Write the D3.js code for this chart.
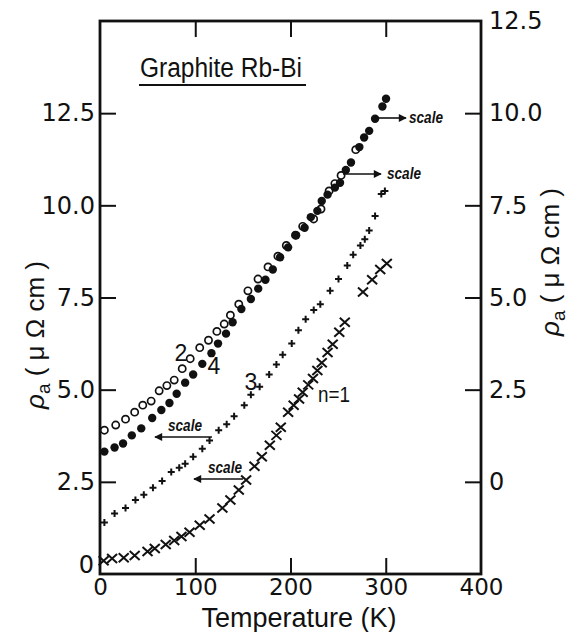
<!DOCTYPE html>
<html lang="en">
<head>
    <meta charset="UTF-8">
    <title>Graphite Rb-Bi</title>
    <style>
        body { margin: 0; background: #fff; }
        text { fill: #111; }
    </style>
</head>
<script src="https://d3js.org/d3.v7.min.js"></script>
<body>
<script>
    // n = 2 (open circles), right hand scale
    var tempN2 = [4.6, 16.5, 26.8, 36.4, 44.9, 53.7, 62.1, 70.2, 77.9, 86.3, 94.7, 104.7, 113.9, 122.7,
        130.4, 136.9, 145.7, 155.3, 165.9, 176.4, 186.8, 195.6, 205.2, 212.8, 224.3, 232, 240.5,
        246.6, 253.1, 268.5];
    var rhoN2 = [1.40, 1.54, 1.70, 1.89, 2.08, 2.19, 2.47, 2.61, 2.76, 3.07, 3.34, 3.64, 3.84, 4.08,
        4.28, 4.52, 4.82, 5.18, 5.50, 5.83, 6.12, 6.41, 6.69, 6.93, 7.13, 7.40, 7.89,
        8.09, 8.31, 9.01];

    // n = 4 (filled circles), right hand scale
    var tempN4 = [4.6, 15.3, 24.2, 33.4, 43.3, 54.8, 64.4, 72.9, 80.5, 89.4, 97.8, 107.4, 117, 123.9,
        132.3, 139.2, 148.4, 158.4, 166.1, 173.7, 181.4, 189.1, 197.5, 205.9, 214.8, 221.3, 228.2,
        232.8, 238.9, 246.6, 252, 258.1, 263.5, 272.3, 277.3, 282.6, 288.8, 296.5, 300.3];
    var rhoN4 = [0.82, 0.93, 1.04, 1.26, 1.45, 1.73, 1.95, 2.14, 2.39, 2.69, 2.91, 3.20, 3.49, 3.75,
        4.02, 4.33, 4.69, 4.96, 5.24, 5.48, 5.76, 6.09, 6.36, 6.69, 6.89, 7.18, 7.35,
        7.62, 7.79, 7.98, 8.11, 8.46, 8.66, 9.08, 9.34, 9.52, 9.85, 10.18, 10.39];

    // n = 3 (plus), left hand scale
    var tempN3 = [4.6, 15.3, 26.8, 37.2, 46, 55.6, 65.2, 74.8, 83.2, 89.4, 97.8, 107.4, 115, 124.6,
        133, 140.8, 151.5, 158.4, 167.6, 177.6, 185.2, 191.8, 201.3, 208.3, 215.9, 224.4, 231.3,
        241.6, 250.4, 259.6, 265.8, 273.4, 278, 282.6, 288.8, 295.3, 299.1];
    var rhoN3 = [1.40, 1.64, 1.79, 2.01, 2.15, 2.34, 2.52, 2.77, 2.88, 2.99, 3.18, 3.40, 3.62, 3.90,
        4.06, 4.28, 4.58, 4.86, 5.08, 5.41, 5.68, 5.95, 6.25, 6.61, 6.91, 7.16, 7.32,
        7.68, 8.00, 8.37, 8.66, 8.91, 9.08, 9.32, 9.71, 10.31, 10.39];

    // n = 1 (crosses), left hand scale
    var tempN1 = [3.8, 12.7, 24.9, 36.4, 49.9, 57.5, 69, 77.9, 85.5, 94, 104.7, 115, 128.5, 136.9,
        145.7, 153.4, 162.2, 169.9, 178.3, 185.2, 189.8, 197.5, 203.3, 209, 212.8, 218.6, 223.6,
        228.2, 232.8, 238.9, 244.3, 251.2, 257, 276.1, 285.7, 294.2, 301.1];
    var rhoN1 = [0.36, 0.42, 0.44, 0.50, 0.61, 0.69, 0.80, 0.91, 1.02, 1.13, 1.32, 1.49, 1.79, 2.01,
        2.28, 2.55, 2.92, 3.18, 3.49, 3.76, 3.98, 4.39, 4.58, 4.75, 4.93, 5.13, 5.30,
        5.52, 5.73, 6.01, 6.23, 6.56, 6.83, 7.65, 7.98, 8.26, 8.42];

    var xTicks = [0, 100, 200, 300, 400];
    var leftTicks = [0, 2.5, 5, 7.5, 10, 12.5];
    var rightTicks = [0, 2.5, 5, 7.5, 10, 12.5];

    var width = 570, height = 632;
    var frameL = 100, frameR = 481, frameT = 21, frameB = 574;

    var svg = d3.select("body").append("svg")
        .attr("width", width)
        .attr("height", height);

    var x = d3.scaleLinear().domain([0, 400]).range([frameL, frameR]);
    var yL = d3.scaleLinear().domain([0, 15]).range([frameB, frameT]);
    var yR = d3.scaleLinear().domain([-2.5, 12.5]).range([frameB, frameT]);

    var fmt = function (d) { return d === 0 ? "0" : d.toFixed(1); };
    var tickFont = "'DejaVu Sans', sans-serif";

    function styleAxis(g) {
        g.select(".domain").remove();
        g.selectAll(".tick line").attr("stroke", "#111").attr("stroke-width", 2);
        g.selectAll(".tick text")
            .attr("font-family", tickFont)
            .attr("font-size", 24)
            .attr("fill", "#111");
    }

    // bottom
    svg.append("g")
        .attr("transform", "translate(0," + frameB + ")")
        .call(d3.axisBottom(x).tickValues(xTicks).tickSize(-16).tickPadding(5).tickFormat(d3.format("d")))
        .call(styleAxis)
        .call(function (g) {
            g.selectAll(".tick text").attr("font-size", 23);
            g.selectAll(".tick").filter(function (d) { return d === 0 || d === 400; }).select("line").remove();
        });

    // top
    svg.append("g")
        .attr("transform", "translate(0," + frameT + ")")
        .call(d3.axisTop(x).tickValues([100, 200, 300]).tickSize(-16).tickFormat(""))
        .call(styleAxis);

    // left
    svg.append("g")
        .attr("transform", "translate(" + frameL + ",0)")
        .call(d3.axisLeft(yL).tickValues(leftTicks).tickSize(-16).tickPadding(5).tickFormat(fmt))
        .call(styleAxis)
        .call(function (g) {
            var t0 = g.selectAll(".tick").filter(function (d) { return d === 0; });
            t0.select("line").remove();
            t0.select("text").attr("dy", "-0.05em").attr("x", -6);
        });

    // right
    svg.append("g")
        .attr("transform", "translate(" + frameR + ",0)")
        .call(d3.axisRight(yR).tickValues(rightTicks).tickSize(-16).tickPadding(8).tickFormat(fmt))
        .call(styleAxis)
        .call(function (g) {
            g.selectAll(".tick").filter(function (d) { return d === 12.5; }).select("line").remove();
        });

    // frame
    svg.append("rect")
        .attr("x", frameL).attr("y", frameT)
        .attr("width", frameR - frameL).attr("height", frameB - frameT)
        .attr("fill", "none")
        .attr("stroke", "#111")
        .attr("stroke-width", 2.8);

    // data
    var plot = svg.append("g");

    plot.selectAll(".n2").data(d3.zip(tempN2, rhoN2)).enter().append("circle")
        .attr("cx", function (d) { return x(d[0]); })
        .attr("cy", function (d) { return yR(d[1]); })
        .attr("r", 3.6)
        .attr("fill", "#fff")
        .attr("stroke", "#111")
        .attr("stroke-width", 1.7);

    plot.selectAll(".n4").data(d3.zip(tempN4, rhoN4)).enter().append("circle")
        .attr("cx", function (d) { return x(d[0]); })
        .attr("cy", function (d) { return yR(d[1]); })
        .attr("r", 4.2)
        .attr("fill", "#111");

    plot.selectAll(".n3").data(d3.zip(tempN3, rhoN3)).enter().append("path")
        .attr("transform", function (d) { return "translate(" + x(d[0]) + "," + yL(d[1]) + ")"; })
        .attr("d", "M-3.5,0H3.5M0,-3.5V3.5")
        .attr("stroke", "#111")
        .attr("stroke-width", 2);

    plot.selectAll(".n1").data(d3.zip(tempN1, rhoN1)).enter().append("path")
        .attr("transform", function (d) { return "translate(" + x(d[0]) + "," + yL(d[1]) + ")"; })
        .attr("d", "M-5,-4.5L5,4.5M-5,4.5L5,-4.5")
        .attr("stroke", "#111")
        .attr("stroke-width", 2);

    // annotations
    var labFont = "'Liberation Sans', Arial, sans-serif";

    svg.append("text")
        .attr("x", 140).attr("y", 77)
        .attr("font-family", labFont).attr("font-size", 27)
        .attr("textLength", 162).attr("lengthAdjust", "spacingAndGlyphs")
        .text("Graphite Rb-Bi");
    svg.append("line")
        .attr("x1", 139).attr("x2", 306).attr("y1", 85).attr("y2", 85)
        .attr("stroke", "#111").attr("stroke-width", 2);

    var curveLabels = [["2", 181, 361], ["4", 214, 374], ["3", 251, 390]];
    curveLabels.forEach(function (c) {
        svg.append("text")
            .attr("x", c[1]).attr("y", c[2])
            .attr("text-anchor", "middle")
            .attr("font-family", labFont).attr("font-size", 23)
            .text(c[0]);
    });
    svg.append("text")
        .attr("x", 318).attr("y", 402)
        .attr("font-family", labFont).attr("font-size", 22)
        .attr("textLength", 32).attr("lengthAdjust", "spacingAndGlyphs")
        .text("n=1");

    var defs = svg.append("defs");
    defs.append("marker")
        .attr("id", "head")
        .attr("viewBox", "0 0 10 10")
        .attr("refX", 9).attr("refY", 5)
        .attr("markerWidth", 11).attr("markerHeight", 8)
        .attr("markerUnits", "userSpaceOnUse")
        .attr("orient", "auto")
        .append("path").attr("d", "M0,0L10,5L0,10Z").attr("fill", "#111");

    // [x1, x2, y, text x, text y]
    var scaleNotes = [
        [212, 155, 437, 168, 431],
        [243, 194, 479, 208, 473],
        [343, 381, 174, 387, 179],
        [376, 406, 118, 409, 123]
    ];
    scaleNotes.forEach(function (s) {
        svg.append("line")
            .attr("x1", s[0]).attr("x2", s[1]).attr("y1", s[2]).attr("y2", s[2])
            .attr("stroke", "#111").attr("stroke-width", 1.6)
            .attr("marker-end", "url(#head)");
        svg.append("text")
            .attr("x", s[3]).attr("y", s[4])
            .attr("font-family", labFont).attr("font-size", 16)
            .attr("font-style", "italic").attr("font-weight", "bold")
            .attr("textLength", 34).attr("lengthAdjust", "spacingAndGlyphs")
            .text("scale");
    });

    // axis titles
    svg.append("text")
        .attr("x", 299).attr("y", 627)
        .attr("text-anchor", "middle")
        .attr("font-family", labFont).attr("font-size", 27)
        .attr("textLength", 195).attr("lengthAdjust", "spacingAndGlyphs")
        .text("Temperature (K)");

    function rhoLabel(cx, cy) {
        var t = svg.append("text")
            .attr("transform", "translate(" + cx + "," + cy + ") rotate(-90)")
            .attr("text-anchor", "middle")
            .attr("font-family", labFont).attr("font-size", 26);
        t.append("tspan").attr("font-style", "italic").text("ρ");
        t.append("tspan").attr("font-size", 19).attr("dy", 6).text("a");
        t.append("tspan").attr("dy", -6).text(" ( μ Ω cm )");
    }
    rhoLabel(44, 335);
    rhoLabel(559, 262);
</script>
</body>
</html>
